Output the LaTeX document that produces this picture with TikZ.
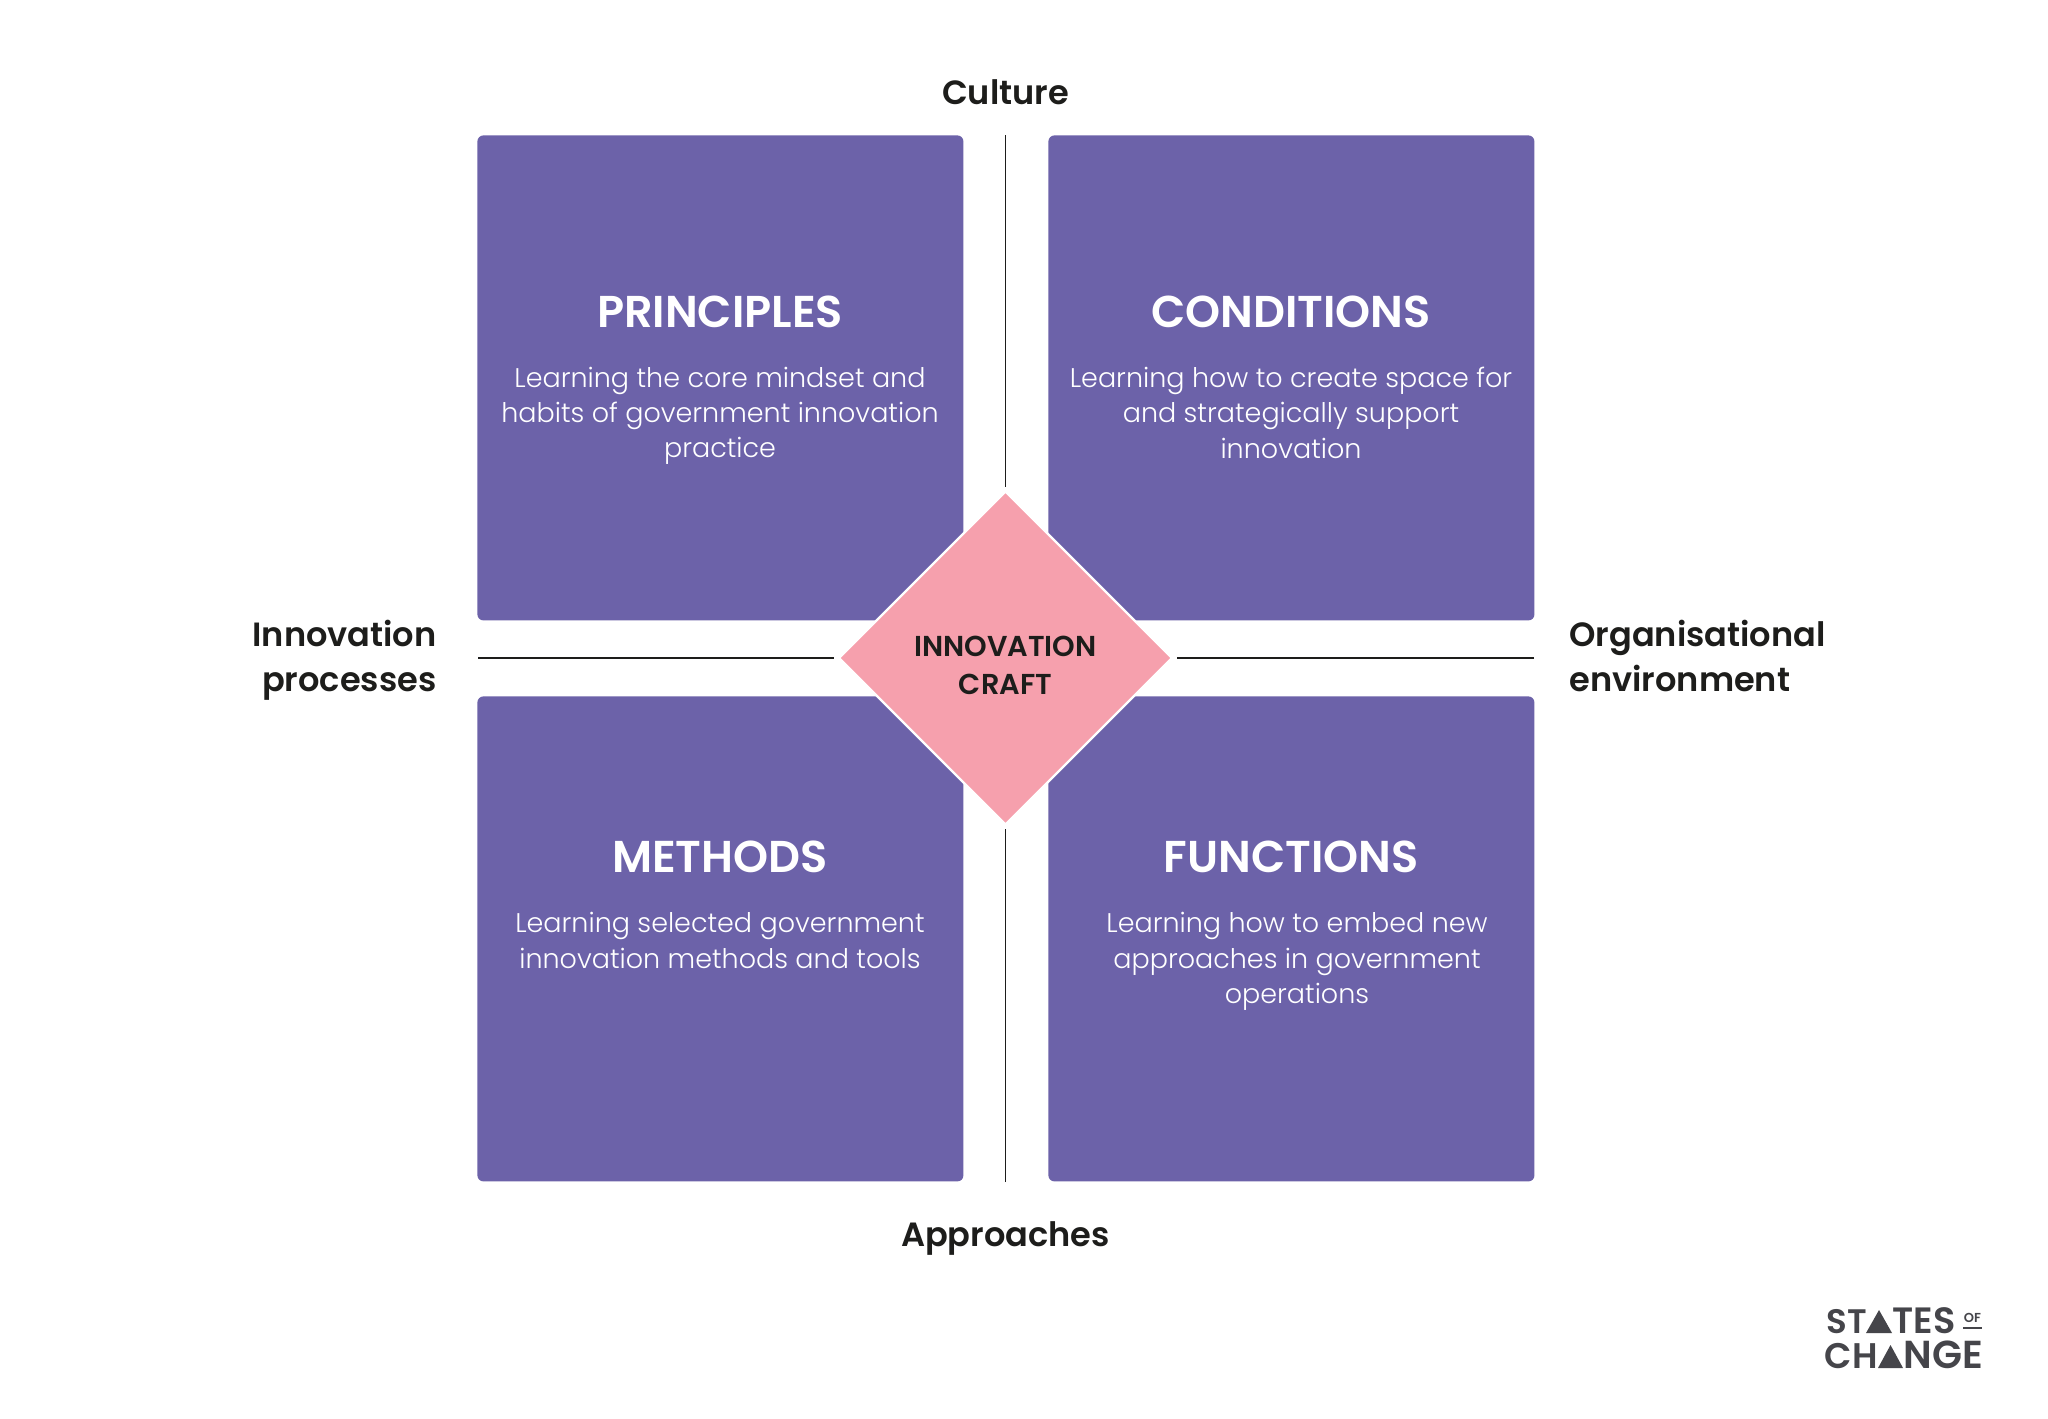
\documentclass[tikz,border=0pt]{standalone}
\usepackage{fontspec}
\setmainfont{Poppins}
\newfontfamily\lightfont{Poppins Light}
\newfontfamily\semifont{Poppins SemiBold}
\usetikzlibrary{positioning,shapes.geometric}
\definecolor{cardpurple}{HTML}{6C62A9}
\definecolor{craftpink}{HTML}{F6A0AD}
\definecolor{inkdark}{HTML}{1D1D1B}
\definecolor{logogrey}{HTML}{45454A}
\tikzset{
card/.style={anchor=north west,fill=cardpurple,rounded corners=3pt,minimum width=243pt,minimum height=242.5pt,inner sep=0pt},
cardtitle/.style={text=white,inner sep=0pt,font=\semifont\fontsize{22.3}{26}\selectfont},
cardtext/.style={text=white,inner sep=0pt,align=center,font=\lightfont\fontsize{13.5}{17.7}\selectfont,below=19.3pt of #1},
axislabel/.style={text=inkdark,inner sep=0pt,font=\semifont\fontsize{16.8}{22.3}\selectfont},
axisline/.style={draw=inkdark,line width=.75pt},
logotext/.style={text=logogrey,inner sep=0pt,font=\semifont\fontsize{#1}{20}\selectfont}
}
\begin{document}
\begin{tikzpicture}[x=.5pt,y=-.5pt]
\useasboundingbox[fill=white](0,0)rectangle(2048,1418);
\node[card](principles)at(477,135){};
\node[card](conditions)at(1048,135){};
\node[card](methods)at(477,696){};
\node[card](functions)at(1048,696){};
\node[cardtitle](principlestitle)at(720,311.5){PRINCIPLES};
\node[cardtitle](conditionstitle)at(1291,311.5){CONDITIONS};
\node[cardtitle](methodstitle)at(720,857){METHODS};
\node[cardtitle](functionstitle)at(1291,857){FUNCTIONS};
\node[cardtext=principlestitle]{Learning the core mindset and\\habits of government innovation\\practice};
\node[cardtext=conditionstitle]{Learning how to create space for\\and strategically support\\innovation};
\node[cardtext=methodstitle]{Learning selected government\\innovation methods and tools};
\node[cardtext=functionstitle,xshift=3pt]{Learning how to embed new\\approaches in government\\operations};
\node[diamond,aspect=1,fill=craftpink,draw=white,line width=1.2pt,minimum width=167pt,minimum height=167pt,inner sep=0pt](craft)at(1005.5,658){};
\node[inner sep=0pt,align=center,text=inkdark,font=\semifont\fontsize{14.4}{19}\selectfont](craftlabel)at(1005.5,665){INNOVATION\\CRAFT};
\node[axislabel](culture)at(1005.5,92){Culture};
\node[axislabel](approaches)at(1005.5,1238){Approaches};
\node[axislabel,anchor=east,align=right](processes)at(437,660){Innovation\\processes};
\node[axislabel,anchor=west,align=left](environment)at(1569,656){Organisational\\environment};
\coordinate(linetop)at(1005.5,135);
\coordinate(linebottom)at(1005.5,1182);
\coordinate(lineleft)at(478,658);
\coordinate(lineright)at(1534,658);
\draw[axisline,shorten >=1.5pt](linetop)--(craft.north);
\draw[axisline,shorten >=1.5pt](linebottom)--(craft.south);
\draw[axisline,shorten >=1.5pt](lineleft)--(craft.west);
\draw[axisline,shorten >=1.5pt](lineright)--(craft.east);
\node[logotext=17,anchor=base east](logost)at(1867,1333){ST};
\node[logotext=18.3,anchor=base west](logotes)at(1892,1333){TES};
\node[logotext=17.8,anchor=base east](logoch)at(1878,1368){CH};
\node[logotext=19.5,anchor=base west](logonge)at(1903,1368){NGE};
\node[text=logogrey,inner sep=0pt,font=\semifont\fontsize{6.5}{7}\selectfont](logoof)at(1972.5,1318){OF};
\fill[logogrey](1866,1333)--(1879,1310)--(1892,1333)--cycle;
\fill[logogrey](1878,1368)--(1890.5,1345)--(1903,1368)--cycle;
\fill[logogrey](1963,1327)rectangle(1982,1329);
\end{tikzpicture}
\end{document}
